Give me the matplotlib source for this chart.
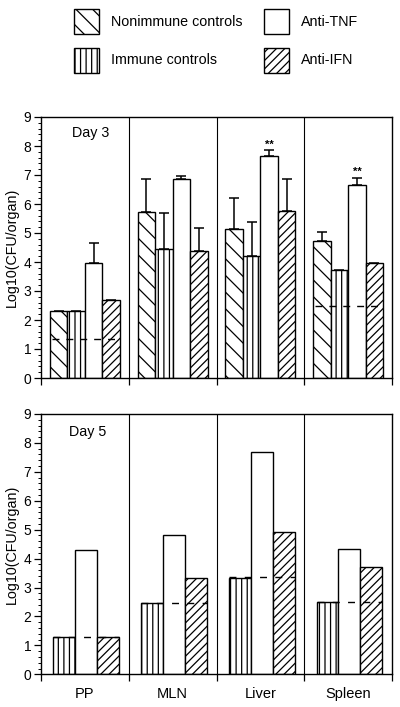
import numpy as np
import matplotlib
matplotlib.use("Agg")
import matplotlib.pyplot as plt
from matplotlib.patches import Rectangle
from matplotlib.ticker import MultipleLocator, FixedLocator

plt.rcParams['font.family'] = ['Liberation Sans', 'DejaVu Sans']
plt.rcParams['hatch.linewidth'] = 0.9

organs = ['PP', 'MLN', 'Liver', 'Spleen']
series_names = ['Nonimmune controls', 'Immune controls', 'Anti-TNF', 'Anti-IFN']
series_hatch = ['\\\\', '|||', '', '////']

nan = np.nan
# Day 3
d3_nonimmune = [2.30, 5.74, 5.13, 4.72]
d3_nonimmune_err = [nan, 1.11, 1.06, 0.32]
d3_immune = [2.30, 4.44, 4.20, 3.74]
d3_immune_err = [nan, 1.26, 1.17, nan]
d3_tnf = [3.98, 6.87, 7.65, 6.67]
d3_tnf_err = [0.69, 0.11, 0.21, 0.24]
d3_ifn = [2.69, 4.39, 5.77, 3.97]
d3_ifn_err = [nan, 0.79, 1.10, nan]
d3_limit = [1.35, nan, nan, 2.48]
d3_sig = ['', '', '**', '**']

# Day 5
d5_immune = [1.29, 2.46, 3.34, 2.51]
d5_tnf = [4.30, 4.80, 7.69, 4.34]
d5_ifn = [1.30, 3.32, 4.92, 3.72]
d5_limit = [1.30, 2.46, 3.36, 2.50]

fig = plt.figure(figsize=(4.0, 7.07), dpi=100)

W, H = 400.0, 707.0
ax1 = fig.add_axes([41 / W, 1 - 378 / H, 351 / W, 261 / H])
ax2 = fig.add_axes([41 / W, 1 - 674.3 / H, 351 / W, 260.3 / H])


def style_axes(ax, label, label_xy, show_xlabels):
    ax.set_xlim(0, 4)
    ax.set_ylim(0, 9)
    ax.yaxis.set_major_locator(MultipleLocator(1))
    ax.yaxis.set_minor_locator(MultipleLocator(0.2))
    ax.tick_params(axis='y', which='major', length=5, width=0.9, direction='out', labelsize=10, pad=2)
    ax.tick_params(axis='y', which='minor', length=2.5, width=0.7, direction='out')
    ax.xaxis.set_major_locator(FixedLocator(np.arange(5)))
    ax.xaxis.set_minor_locator(FixedLocator(np.arange(4) + 0.5))
    ax.tick_params(axis='x', which='major', length=5, width=0.9, direction='out', labelbottom=False)
    ax.tick_params(axis='x', which='minor', length=0, labelsize=10.5, pad=9, labelbottom=show_xlabels)
    if show_xlabels:
        ax.set_xticklabels(organs, minor=True)
    for s in ax.spines.values():
        s.set_linewidth(1.0)
    for g in range(1, 4):
        ax.axvline(g, color='black', lw=0.8, zorder=1)
    ax.set_ylabel('Log10(CFU/organ)', fontsize=10.3, labelpad=3)
    ax.text(label_xy[0], label_xy[1], label, ha='center', va='center', fontsize=10.3)


style_axes(ax1, 'Day 3', (0.57, 8.45), False)
style_axes(ax2, 'Day 5', (0.53, 8.38), True)

groups = np.arange(len(organs))

# Day 3 bars
w3 = 0.2
d3_vals = [d3_nonimmune, d3_immune, d3_tnf, d3_ifn]
d3_errs = [d3_nonimmune_err, d3_immune_err, d3_tnf_err, d3_ifn_err]
for k, (vals, errs) in enumerate(zip(d3_vals, d3_errs)):
    x = groups + 0.2 + w3 * k
    ax1.bar(x, vals, width=w3, color='white', edgecolor='black', linewidth=1.0,
            hatch=series_hatch[k], zorder=2)
    e = np.array(errs, dtype=float)
    ax1.errorbar(x, vals, yerr=[np.zeros_like(e), e], fmt='none', ecolor='black',
                 elinewidth=1.1, capsize=3.8, capthick=1.1, zorder=3)

for g in groups:
    if not np.isnan(d3_limit[g]):
        ax1.plot([g + 0.12, g + 0.9], [d3_limit[g]] * 2, color='black', lw=1.0,
                 dashes=[5, 5], zorder=4)
    if d3_sig[g]:
        top = d3_tnf[g] + d3_tnf_err[g]
        ax1.text(g + 0.2 + w3 * 2, top + 0.02, d3_sig[g], ha='center', va='bottom',
                 fontsize=8, fontweight='bold')

# Day 5 bars
w5 = 0.25
d5_vals = [d5_immune, d5_tnf, d5_ifn]
d5_hatch = series_hatch[1:]
for k, vals in enumerate(d5_vals):
    x = groups + 0.265 + w5 * k
    ax2.bar(x, vals, width=w5, color='white', edgecolor='black', linewidth=1.0,
            hatch=d5_hatch[k], zorder=2)
for g in groups:
    ax2.plot([g + 0.14, g + 0.89], [d5_limit[g]] * 2, color='black', lw=1.0,
             dashes=[5, 6], zorder=4)

# Legend (manual)
lax = fig.add_axes([0, 0, 1, 1])
lax.set_xlim(0, W)
lax.set_ylim(H, 0)
lax.axis('off')
leg_pos = [(74, 9), (74, 48), (264, 9), (264, 48)]
for k in range(4):
    px, py = leg_pos[k]
    lax.add_patch(Rectangle((px, py), 25, 25, facecolor='white', edgecolor='black',
                            linewidth=1.0, hatch=series_hatch[k]))
    lax.text(px + 37, py + 12.5, series_names[k], ha='left', va='center', fontsize=10.3)

fig.savefig('out.png', dpi=100)
